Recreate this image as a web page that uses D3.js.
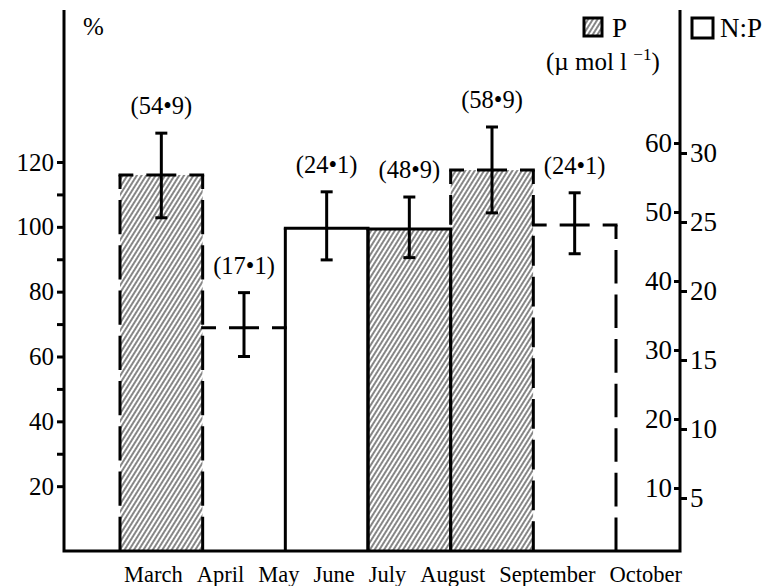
<!DOCTYPE html>
<html>
<head>
<meta charset="utf-8">
<script src="https://cdn.jsdelivr.net/npm/d3@7"></script>
<style>
  body { margin: 0; background: #fff; }
  text { font-family: "Liberation Serif", "DejaVu Serif", serif; fill: #000; }
</style>
</head>
<body>
<div id="chart"></div>
<script>
//chart data
var months = ["March", "April", "May", "June", "July", "August", "September", "October"];
var barValues = [116, 68.9, 99.6, 99.3, 117.5, 100.6];
var errLow = [102.8, 60, 89.8, 90.5, 104.3, 91.7];
var errHigh = [128.9, 79.7, 110.8, 109.2, 130.8, 110.5];
var barLabels = ["(54\u20229)", "(17\u20221)", "(24\u20221)", "(48\u20229)", "(58\u20229)", "(24\u20221)"];
var barSeries = ["P", "N:P", "N:P", "P", "P", "N:P"];
var barDashed = [true, true, false, false, true, true];

var pctTicks = [20, 40, 60, 80, 100, 120];
var pctMinor = [30, 50, 70, 90, 110];
var pTicks = [10, 20, 30, 40, 50, 60];
var npTicks = [5, 10, 15, 20, 25, 30];

var svgWidth = 772;
var svgHeight = 586;

var svg = d3.select("#chart")
  .append("svg")
  .attr("width", svgWidth)
  .attr("height", svgHeight);

var leftX = 64, rightX = 680, baseY = 551, topY = 10;

//scales
var x = d3.scaleBand()
  .domain(d3.range(barValues.length))
  .range([120, 616])
  .padding(0);

var y = d3.scaleLinear().domain([0, 120]).range([baseY, 162]);
var yP = d3.scaleLinear().domain([0, 60]).range([557, 143]);
var yNP = d3.scaleLinear().domain([0, 30]).range([567, 153]);

//hatch pattern
var defs = svg.append("defs");
defs.append("pattern")
  .attr("id", "hatch")
  .attr("patternUnits", "userSpaceOnUse")
  .attr("width", 4)
  .attr("height", 8)
  .attr("patternTransform", "rotate(32)")
  .append("line")
  .attr("x1", 1).attr("y1", 0)
  .attr("x2", 1).attr("y2", 8)
  .attr("stroke", "#222")
  .attr("stroke-width", 1.1);

var bars = barValues.map(function(v, i) {
  return { i: i, v: v, lo: errLow[i], hi: errHigh[i], label: barLabels[i],
           series: barSeries[i], dashed: barDashed[i] };
});

//bar fills
svg.selectAll(".bar")
  .data(bars)
  .enter()
  .append("rect")
  .attr("class", "bar")
  .attr("x", d => x(d.i))
  .attr("y", d => y(d.v))
  .attr("width", x.bandwidth())
  .attr("height", d => baseY - y(d.v))
  .attr("fill", d => d.series === "P" ? "url(#hatch)" : "#fff");

var outline = svg.append("g")
  .attr("fill", "none")
  .attr("stroke", "#000")
  .attr("stroke-width", 3);

//dashed sides are drawn bottom-up so they always end on the baseline
function sideLine(xpos, d) {
  var l = outline.append("line")
    .attr("x1", xpos).attr("x2", xpos)
    .attr("y1", baseY).attr("y2", y(d.v));
  if (d.dashed) {
    var len = baseY - y(d.v);
    var n = Math.max(1, Math.round((len - 14) / 43));
    var dash = (len - 14 - 11 * n) / n;
    l.attr("stroke-dasharray", dash + ",11").attr("stroke-dashoffset", 0);
  }
}

//sides: taller bar owns a shared edge, solid edges always drawn
bars.forEach(function(d, i) {
  var prev = bars[i - 1], next = bars[i + 1];
  if (!prev || d.v >= prev.v || !d.dashed) sideLine(x(d.i), d);
  if (!next || d.v >= next.v || !d.dashed) sideLine(x(d.i) + x.bandwidth(), d);
});

//tops
bars.forEach(function(d) {
  var w = x.bandwidth();
  var mid = 30, gap = 13, c = (w - mid - 2 * gap) / 2;
  var t = outline.append("line")
    .attr("x1", x(d.i) - 1.5).attr("x2", x(d.i) + w + 1.5)
    .attr("y1", y(d.v)).attr("y2", y(d.v));
  if (d.dashed) {
    t.attr("stroke-dasharray", [c + 1.5, gap, mid, gap, c + 1.5].join(","));
  }
});

//error bars
var err = svg.append("g")
  .attr("stroke", "#000")
  .attr("stroke-width", 3);

bars.forEach(function(d) {
  var cx = x(d.i) + x.bandwidth() / 2;
  err.append("line").attr("x1", cx).attr("x2", cx).attr("y1", y(d.hi)).attr("y2", y(d.lo));
  err.append("line").attr("x1", cx - 6).attr("x2", cx + 6).attr("y1", y(d.hi)).attr("y2", y(d.hi));
  err.append("line").attr("x1", cx - 6).attr("x2", cx + 6).attr("y1", y(d.lo)).attr("y2", y(d.lo));
});

//value labels
svg.selectAll(".vlabel")
  .data(bars)
  .enter()
  .append("text")
  .attr("class", "vlabel")
  .attr("x", d => x(d.i) + x.bandwidth() / 2)
  .attr("y", d => y(d.hi) - 19)
  .attr("text-anchor", "middle")
  .attr("font-size", "24.5px")
  .text(d => d.label);

//axis lines
svg.append("path")
  .attr("d", `M${leftX},${topY}V${baseY}H${rightX}V${topY}`)
  .attr("fill", "none")
  .attr("stroke", "#000")
  .attr("stroke-width", 3);

function styleAxis(g, size) {
  g.select(".domain").remove();
  g.selectAll(".tick line").attr("stroke", "#000").attr("stroke-width", 3);
  g.selectAll(".tick text")
    .attr("fill", "#000")
    .attr("font-size", size)
    .attr("font-family", "Liberation Serif, serif");
}

//left axis
var leftAxis = svg.append("g")
  .attr("transform", `translate(${leftX}, 0)`)
  .call(d3.axisLeft(y).tickValues(pctTicks).tickSize(7).tickPadding(3));
styleAxis(leftAxis, "25px");

var leftMinorAxis = svg.append("g")
  .attr("transform", `translate(${leftX}, 0)`)
  .call(d3.axisLeft(y).tickValues(pctMinor).tickSize(7).tickFormat(""));
styleAxis(leftMinorAxis, "25px");

//right axes: P inside, N:P outside
var pAxis = svg.append("g")
  .attr("transform", `translate(${rightX}, 0)`)
  .call(d3.axisLeft(yP).tickValues(pTicks).tickSize(6).tickPadding(2));
styleAxis(pAxis, "27px");

var npAxis = svg.append("g")
  .attr("transform", `translate(${rightX}, 0)`)
  .call(d3.axisRight(yNP).tickValues(npTicks).tickSize(7).tickPadding(3));
styleAxis(npAxis, "27px");

//month labels laid out along the bottom
var mx = 124;
months.forEach(function(m) {
  var t = svg.append("text")
    .attr("x", mx)
    .attr("y", 582)
    .attr("font-size", "22.5px")
    .text(m);
  mx += t.node().getComputedTextLength() + 14;
});

//unit label
svg.append("text")
  .attr("x", 83).attr("y", 35)
  .attr("font-size", "25px")
  .text("%");

//legend
svg.append("rect")
  .attr("x", 584).attr("y", 18)
  .attr("width", 18).attr("height", 18)
  .attr("fill", "url(#hatch)")
  .attr("stroke", "#000").attr("stroke-width", 3);
svg.append("text")
  .attr("x", 612).attr("y", 37)
  .attr("font-size", "27px")
  .text("P");

var unit = svg.append("text")
  .attr("x", 546).attr("y", 70)
  .attr("font-size", "25px");
unit.append("tspan").text("(\u00b5 mol l ");
unit.append("tspan").attr("dy", -10).attr("font-size", "17px").text("\u2212" + "1");
unit.append("tspan").attr("dy", 10).text(")");

svg.append("rect")
  .attr("x", 692).attr("y", 18)
  .attr("width", 21).attr("height", 20)
  .attr("fill", "#fff")
  .attr("stroke", "#000").attr("stroke-width", 3);
svg.append("text")
  .attr("x", 720).attr("y", 37)
  .attr("font-size", "27px")
  .text("N:P");
</script>
</body>
</html>
